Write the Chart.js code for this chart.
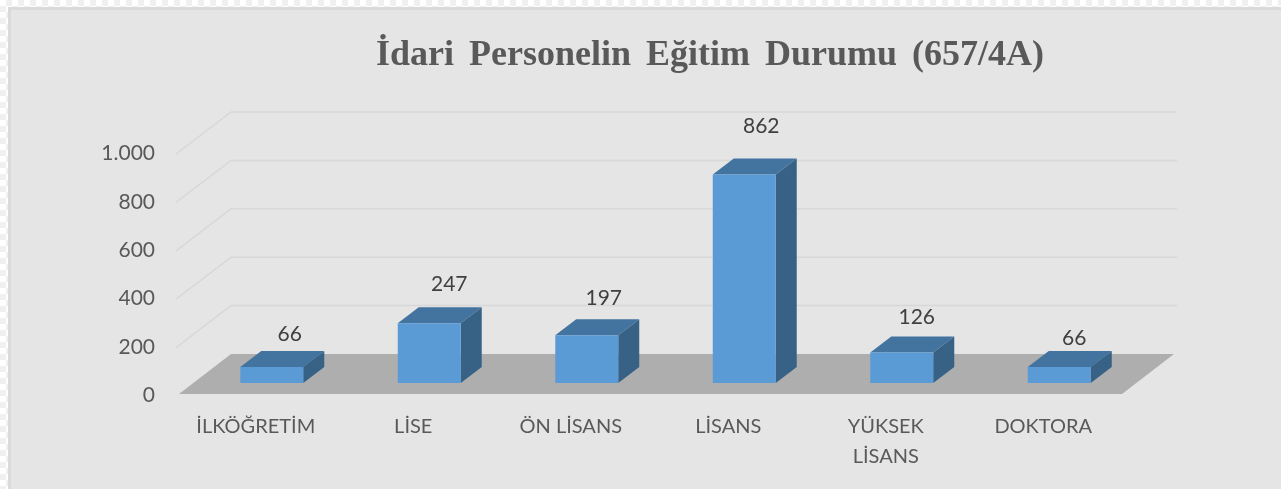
<!DOCTYPE html>
<html lang="tr">
<head>
<meta charset="utf-8">
<title>İdari Personelin Eğitim Durumu</title>
<script src="https://cdn.jsdelivr.net/npm/chart.js@4/dist/chart.umd.min.js"></script>
<style>
    html, body { margin: 0; padding: 0; width: 1281px; height: 489px; overflow: hidden; }
    body {
        background-color: #fff;
        background-image: conic-gradient(#f0f0f0 25%, #fff 0 50%, #f0f0f0 0 75%, #fff 0);
        background-size: 12px 12px;
    }
    #panel {
        position: absolute; left: 8px; top: 7px; width: 1273px; height: 482px;
        box-sizing: border-box; background: #e5e5e5;
        border-left: 3px solid #dadada; border-top: 3px solid #dadada;
    }
    #chart { position: absolute; left: 0; top: 0; }
</style>
</head>
<body>
<div id="panel"></div>
<canvas id="chart" width="1281" height="489"></canvas>
<script>
const categories = ['İLKÖĞRETİM', 'LİSE', 'ÖN LİSANS', 'LİSANS', ['YÜKSEK', 'LİSANS'], 'DOKTORA'];
const personnel = [66, 247, 197, 862, 126, 66];
const titleText = 'İdari Personelin Eğitim Durumu (657/4A)';

// Label nudges: Excel does not put them at a fixed distance
const labelDx = [18, 20, 17, 17, 15, 15];
const labelDy = [-33, -39, -37, -48, -35, -29];

const font = 'Lato, Carlito, sans-serif';

// Scales describe the front plane of the 3D box
const boxDepth = { x: 52, y: -40 };   // front plane to back wall
const barShift = { x: 14, y: -11 };   // front plane to front of bars
const barDepth = { x: 21, y: -16 };

const frontColor = '#5b9bd5';
const topColor = '#43739f';
const sideColor = '#376286';

function poly(ctx, color, pts) {
    ctx.fillStyle = color;
    ctx.beginPath();
    pts.forEach((p, i) => i ? ctx.lineTo(p[0], p[1]) : ctx.moveTo(p[0], p[1]));
    ctx.closePath();
    ctx.fill();
}

const box3d = {
    id: 'box3d',
    afterLayout(chart) {
        // title is centred over the picture's plot, not over the canvas
        const block = chart.titleBlock;
        block.left = 0;
        block.right = 1420;
        // the original title has wide gaps between its words
        const drawTitle = block.draw;
        block.draw = function () {
            chart.ctx.wordSpacing = '6px';
            drawTitle.call(block);
            chart.ctx.wordSpacing = '0px';
        };
    },
    beforeDatasetsDraw(chart) {
        const ctx = chart.ctx;
        const { left, right, bottom } = chart.chartArea;
        const y = chart.scales.y;

        // walls
        ctx.save();
        ctx.strokeStyle = '#d8d8d8';
        ctx.lineWidth = 1.5;
        y.ticks.forEach(t => {
            if (t.value === 0) return;
            const py = y.getPixelForValue(t.value);
            ctx.beginPath();
            ctx.moveTo(left - 3, py + 2);
            ctx.lineTo(left + boxDepth.x, py + boxDepth.y);
            ctx.lineTo(right + boxDepth.x + 1, py + boxDepth.y);
            ctx.stroke();
        });

        // floor
        poly(ctx, '#aeaeae', [
            [left, bottom],
            [left + boxDepth.x, bottom + boxDepth.y],
            [right + boxDepth.x - 2, bottom + boxDepth.y],
            [right - 2, bottom]
        ]);
        ctx.restore();

        // bars sit inside the box, side and top faces behind the native front face
        ctx.save();
        ctx.translate(barShift.x, barShift.y);
        chart.getDatasetMeta(0).data.forEach(bar => {
            const x0 = bar.x - bar.width / 2;
            const x1 = bar.x + bar.width / 2;
            poly(ctx, topColor, [
                [x0, bar.y], [x0 + barDepth.x, bar.y + barDepth.y],
                [x1 + barDepth.x, bar.y + barDepth.y], [x1, bar.y]
            ]);
            poly(ctx, sideColor, [
                [x1, bar.y], [x1 + barDepth.x, bar.y + barDepth.y],
                [x1 + barDepth.x, bar.base + barDepth.y], [x1, bar.base]
            ]);
        });
    },
    afterDatasetsDraw(chart) {
        const ctx = chart.ctx;
        ctx.restore();

        // value labels
        ctx.save();
        ctx.font = '21px ' + font;
        ctx.fillStyle = '#404040';
        ctx.textAlign = 'center';
        ctx.textBaseline = 'middle';
        chart.getDatasetMeta(0).data.forEach((bar, i) => {
            ctx.fillText(personnel[i], bar.x + barShift.x + labelDx[i], bar.y + barShift.y + labelDy[i]);
        });
        ctx.restore();
    }
};

new Chart(document.getElementById('chart'), {
    type: 'bar',
    data: {
        labels: categories,
        datasets: [{
            data: personnel,
            backgroundColor: frontColor,
            categoryPercentage: 1,
            barPercentage: 0.4
        }]
    },
    options: {
        responsive: false,
        animation: false,
        layout: { padding: { left: 0, right: 157, top: 0, bottom: 0 } },
        plugins: {
            legend: { display: false },
            tooltip: { enabled: false },
            title: {
                display: true,
                text: titleText,
                color: '#595959',
                font: { family: '"Liberation Serif", serif', size: 36, weight: 'bold', lineHeight: 1.2 },
                padding: { top: 34, bottom: 74.8 }
            }
        },
        scales: {
            x: {
                grid: { display: false, drawTicks: false },
                border: { display: false },
                afterFit: s => { s.height = 95; },
                ticks: {
                    color: '#595959',
                    padding: 18,
                    labelOffset: -2,
                    autoSkip: false,
                    maxRotation: 0,
                    font: { family: font, size: 20, lineHeight: 1.5 }
                }
            },
            y: {
                min: 0,
                max: 1000,
                grid: { display: false, drawTicks: false },
                border: { display: false },
                afterFit: s => { s.width = 179; },
                ticks: {
                    stepSize: 200,
                    color: '#595959',
                    padding: 24,
                    labelOffset: 1.5,
                    font: { family: font, size: 21 },
                    callback: v => v.toLocaleString('tr-TR')
                }
            }
        }
    },
    plugins: [box3d]
});
</script>
</body>
</html>
